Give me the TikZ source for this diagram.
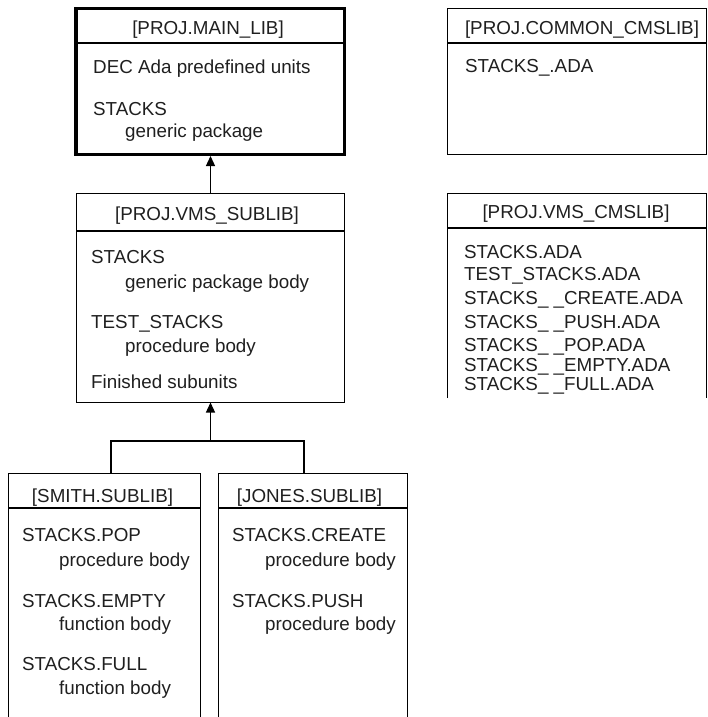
\documentclass[tikz,border=0pt]{standalone}
\usepackage{fontspec}
\setmainfont{Liberation Sans}
\usetikzlibrary{arrows.meta}
\begin{document}
\begin{tikzpicture}[x=1pt,y=-1pt,
  lib/.style={draw=none,inner sep=0pt,outer sep=0pt,line width=1.3pt},
  libtext/.style={inner sep=0pt,anchor=base west,text=black!88,font=\fontsize{18.8}{22}\selectfont},
  libtitle/.style={inner sep=0pt,anchor=base,text=black!88,font=\fontsize{18.8}{22}\selectfont},
  rule/.style={line width=1.3pt},
  uses/.style={line width=1.3pt,-{Triangle[width=9pt,length=10pt]}}]
\useasboundingbox (0,0) rectangle (708,717);

% library frames
\node[lib,draw,line width=3.5pt,minimum width=268.5pt,minimum height=145.5pt] (mainlib) at (210,81.5) {};
\node[lib,draw,minimum width=259pt,minimum height=146pt] (comcms) at (577,81.5) {};
\node[lib,draw,minimum width=268pt,minimum height=209pt] (vmssub) at (210.5,298) {};
\node[lib,minimum width=259pt,minimum height=204.5pt] (vmscms) at (577,295.75) {};
\node[lib,minimum width=192pt,minimum height=243.5pt] (smith) at (104.5,595.25) {};
\node[lib,minimum width=189pt,minimum height=243.5pt] (jones) at (313,595.25) {};

% frames left open at the bottom
\draw[rule] (vmscms.south west) -- (vmscms.north west) -- (vmscms.north east) -- (vmscms.south east);
\draw[rule] (smith.south west) -- (smith.north west) -- (smith.north east) -- (smith.south east);
\draw[rule] (jones.south west) -- (jones.north west) -- (jones.north east) -- (jones.south east);

% title rules
\draw[rule] (mainlib.west |- 0,43) -- (mainlib.east |- 0,43);
\draw[rule] (comcms.west |- 0,43) -- (comcms.east |- 0,43);
\draw[rule] (vmssub.west |- 0,231) -- (vmssub.east |- 0,231);
\draw[rule] (vmscms.west |- 0,228) -- (vmscms.east |- 0,228);
\draw[rule] (smith.west |- 0,508) -- (smith.east |- 0,508);
\draw[rule] (jones.west |- 0,508) -- (jones.east |- 0,508);

% titles
\node[libtitle] (tmain) at (208,35) {[PROJ.MAIN\_LIB]};
\node[libtitle] (tcom) at (582,35) {[PROJ.COMMON\_CMSLIB]};
\node[libtitle] (tvsub) at (207,220) {[PROJ.VMS\_SUBLIB]};
\node[libtitle] (tvcms) at (576,218) {[PROJ.VMS\_CMSLIB]};
\node[libtitle] (tsmith) at (102.5,502) {[SMITH.SUBLIB]};
\node[libtitle] (tjones) at (309.5,502) {[JONES.SUBLIB]};

% [PROJ.MAIN_LIB]
\node[libtext] (m1) at (93,74) {DEC Ada predefined units};
\node[libtext] (m2) at (93,115) {STACKS};
\node[libtext] (m3) at (125,137) {generic package};

% [PROJ.COMMON_CMSLIB]
\node[libtext] (c1) at (465,73) {STACKS\_.ADA};

% [PROJ.VMS_SUBLIB]
\node[libtext] (s1) at (91,263) {STACKS};
\node[libtext] (s2) at (125,288) {generic package body};
\node[libtext] (s3) at (91,328) {TEST\_STACKS};
\node[libtext] (s4) at (125,352) {procedure body};
\node[libtext] (s5) at (91,388) {Finished subunits};

% [PROJ.VMS_CMSLIB]
\node[libtext] (v1) at (464,258) {STACKS.ADA};
\node[libtext] (v2) at (464,280) {TEST\_STACKS.ADA};
\node[libtext] (v3) at (464,304) {STACKS\_ \_CREATE.ADA};
\node[libtext] (v4) at (464,328) {STACKS\_ \_PUSH.ADA};
\node[libtext] (v5) at (464,351) {STACKS\_ \_POP.ADA};
\node[libtext] (v6) at (464,371) {STACKS\_ \_EMPTY.ADA};
\node[libtext] (v7) at (464,390) {STACKS\_ \_FULL.ADA};

% [SMITH.SUBLIB]
\node[libtext] (a1) at (22,541) {STACKS.POP};
\node[libtext] (a2) at (59,566) {procedure body};
\node[libtext] (a3) at (22,607) {STACKS.EMPTY};
\node[libtext] (a4) at (59,630) {function body};
\node[libtext] (a5) at (22,670) {STACKS.FULL};
\node[libtext] (a6) at (59,694) {function body};

% [JONES.SUBLIB]
\node[libtext] (b1) at (232,541) {STACKS.CREATE};
\node[libtext] (b2) at (265,566) {procedure body};
\node[libtext] (b3) at (232,607) {STACKS.PUSH};
\node[libtext] (b4) at (265,630) {procedure body};

% connectors
\draw[uses,shorten >=1.75pt] (vmssub.north) -- (vmssub.north |- mainlib.south);
\coordinate (fork) at (vmssub.south |- 0,441);
\draw[uses] (fork) -- (vmssub.south);
\coordinate (smithtap) at (smith.north -| 111,0);
\coordinate (jonestap) at (jones.north -| 304,0);
\draw[rule] (smithtap) |- (fork) -| (jonestap);
\end{tikzpicture}
\end{document}
